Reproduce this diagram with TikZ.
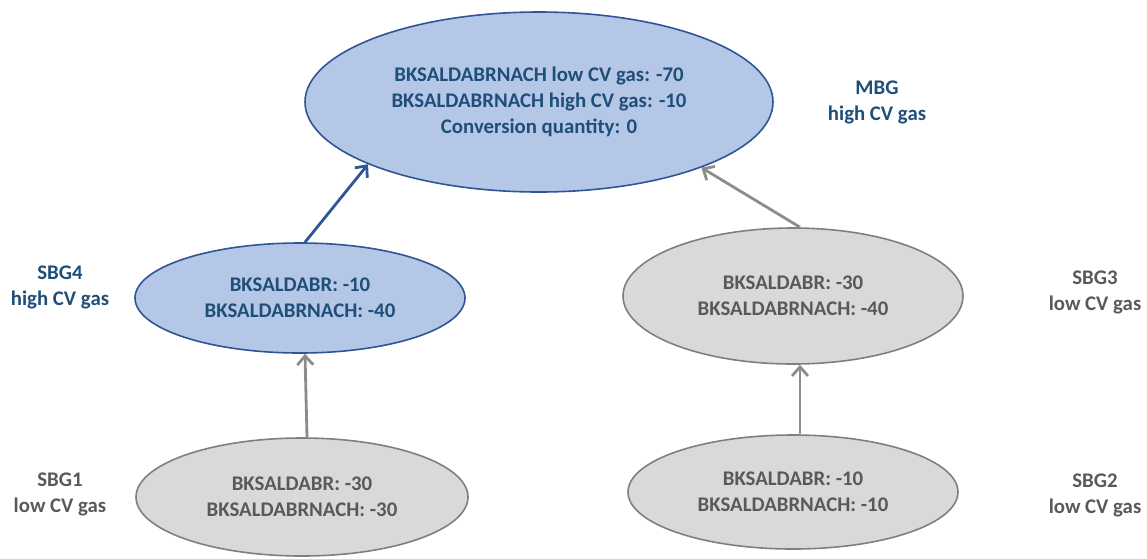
\documentclass[tikz,border=0pt]{standalone}
\usepackage{fontspec}
\setmainfont{Carlito}
\usetikzlibrary{shapes.geometric,arrows.meta}
\definecolor{blfill}{HTML}{B4C7E7}
\definecolor{bldraw}{HTML}{2F5597}
\definecolor{bltext}{HTML}{1F4E79}
\definecolor{grfill}{HTML}{D9D9D9}
\definecolor{grdraw}{HTML}{7F7F7F}
\definecolor{grtext}{HTML}{595959}
\definecolor{grline}{HTML}{8C8C8C}
\tikzset{
  txt/.style={font=\fontsize{20.8}{26}\selectfont\bfseries, align=center},
  bubble/.style={ellipse, txt, inner sep=0pt, line width=1.6pt},
  bluebubble/.style={bubble, fill=blfill, draw=bldraw, text=bltext},
  graybubble/.style={bubble, fill=grfill, draw=grdraw, text=grtext},
  bluelabel/.style={txt, text=bltext},
  graylabel/.style={txt, text=grtext},
  link/.style={line width=2.8pt, -{Straight Barb[length=9pt,width=16pt,line width=2.8pt]}},
  bluelink/.style={link, draw=bldraw},
  graylink/.style={link, draw=grline},
}
\begin{document}
\begin{tikzpicture}[x=1pt,y=-1pt]
  \useasboundingbox (0,0) rectangle (1147,558);

  % ellipses
  \node[bluebubble, minimum width=468pt, minimum height=180pt] (mbg) at (539,102)
    {BKSALDABRNACH low CV gas: -70\\BKSALDABRNACH high CV gas: -10\\Conversion quantity: 0};
  \node[bluebubble, minimum width=330pt, minimum height=110pt] (sbg4) at (300,298)
    {BKSALDABR: -10\\BKSALDABRNACH: -40};
  \node[graybubble, minimum width=340pt, minimum height=136pt] (sbg3) at (793,296)
    {BKSALDABR: -30\\BKSALDABRNACH: -40};
  \node[graybubble, minimum width=332pt, minimum height=118pt] (sbg1) at (302,497)
    {BKSALDABR: -30\\BKSALDABRNACH: -30};
  \node[graybubble, minimum width=330pt, minimum height=114pt] (sbg2) at (793,492)
    {BKSALDABR: -10\\BKSALDABRNACH: -10};

  % side labels
  \node[bluelabel] (lmbg) at (877,102) {MBG\\high CV gas};
  \node[bluelabel] (lsbg4) at (60,287) {SBG4\\high CV gas};
  \node[graylabel] (lsbg3) at (1095,292) {SBG3\\low CV gas};
  \node[graylabel] (lsbg1) at (60,494) {SBG1\\low CV gas};
  \node[graylabel] (lsbg2) at (1095,495) {SBG2\\low CV gas};

  % connectors
  \draw[bluelink] ([xshift=5pt]sbg4.north) -- (mbg.200);
  \draw[graylink] ([xshift=7pt]sbg3.north) -- (mbg.338);
  \draw[graylink] ([xshift=5pt]sbg1.north) -- ([xshift=5pt]sbg4.south);
  \draw[graylink] ([xshift=7pt]sbg2.north) -- ([xshift=7pt]sbg3.south);
\end{tikzpicture}
\end{document}
